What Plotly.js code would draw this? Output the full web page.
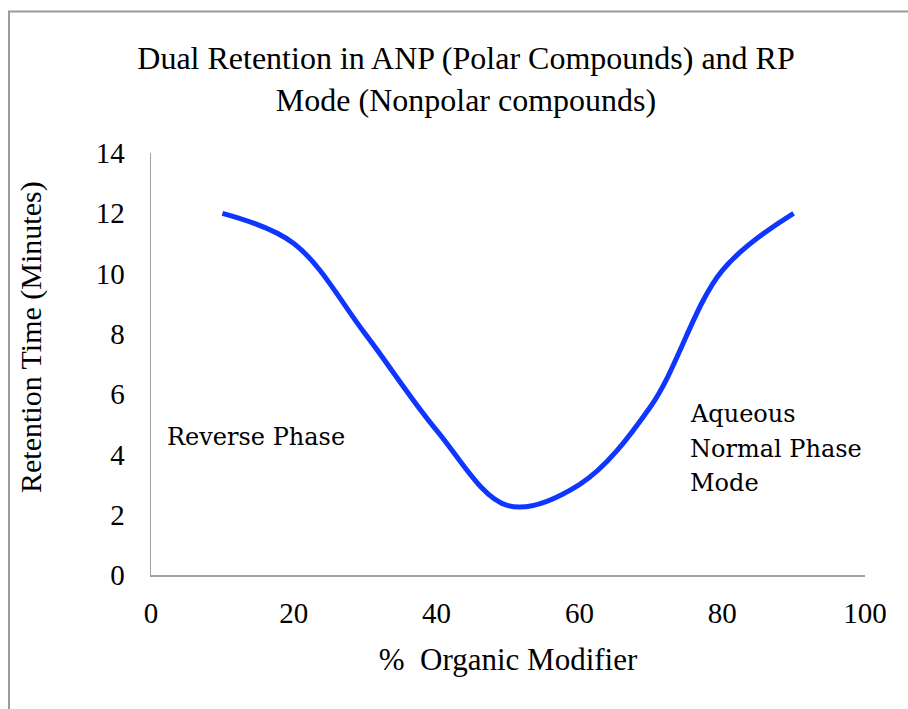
<!DOCTYPE html>
<html>
<head>
<meta charset="utf-8">
<script src="https://cdn.plot.ly/plotly-3.0.1.min.js"></script>
<style>
  html, body { margin: 0; padding: 0; background: #ffffff; }
  #chart { width: 908px; height: 709px; }
</style>
</head>
<body>
<div id="chart"></div>
<script>
// Data
const organicModifier = [10, 20, 30, 40, 50, 60, 70, 80, 90];
const retentionTime   = [12, 11, 8, 4.8, 2.3, 3, 5.6, 10.1, 12];

const xTicks = [0, 20, 40, 60, 80, 100];
const yTicks = [0, 2, 4, 6, 8, 10, 12, 14];

const titleText = "Dual Retention in ANP (Polar Compounds) and RP<br>Mode (Nonpolar compounds)";
const xTitle = "%\u00A0\u00A0Organic Modifier";
const yTitle = "Retention Time (Minutes)";
const labelLeft = "Reverse Phase";
const labelRightLines = ["Aqueous", "Normal Phase", "Mode"];

const serif = "Liberation Serif, Times New Roman, serif";
const labelFont = "DejaVu Serif, serif";

const trace = {
  x: organicModifier,
  y: retentionTime,
  type: "scatter",
  mode: "lines",
  line: { color: "#0F36FF", width: 5, shape: "spline", smoothing: 1 },
  hoverinfo: "x+y",
  showlegend: false
};

// plot area geometry helpers (pixel -> paper)
const L = 151, R = 865, T = 153, B = 575;
const px = v => (v - L) / (R - L);
const py = v => (B - v) / (B - T);

const annotations = [
  {
    text: yTitle,
    xref: "paper", yref: "paper",
    x: px(31), xanchor: "center",
    y: py(337), yanchor: "middle",
    textangle: -90,
    showarrow: false,
    font: { family: serif, size: 30, color: "#000000" }
  },
  {
    text: labelLeft,
    xref: "paper", yref: "paper",
    x: px(165), xanchor: "left",
    y: py(437), yanchor: "middle",
    showarrow: false,
    align: "left",
    font: { family: labelFont, size: 24, color: "#000000" }
  }
];
const rightLineY = [414, 449, 483];
labelRightLines.forEach((t, i) => {
  annotations.push({
    text: t,
    xref: "paper", yref: "paper",
    x: px(688), xanchor: "left",
    y: py(rightLineY[i]), yanchor: "middle",
    showarrow: false,
    align: "left",
    font: { family: labelFont, size: 24, color: "#000000" }
  });
});

const layout = {
  width: 908,
  height: 709,
  paper_bgcolor: "#ffffff",
  plot_bgcolor: "#ffffff",
  margin: { l: L, r: 908 - R, t: T, b: 709 - B },
  showlegend: false,
  title: {
    text: titleText,
    font: { family: serif, size: 32, color: "#000000" },
    xref: "paper",
    x: px(466),
    xanchor: "center",
    yref: "container",
    y: 1 - 69 / 709,
    yanchor: "top"
  },
  xaxis: {
    range: [0, 100],
    tickvals: xTicks,
    ticktext: xTicks.map(String),
    showgrid: false,
    zeroline: false,
    showline: true,
    linecolor: "#A0A0A0",
    linewidth: 1.5,
    ticks: "outside",
    ticklen: 12,
    tickcolor: "rgba(0,0,0,0)",
    tickfont: { family: serif, size: 29, color: "#000000" },
    title: {
      text: xTitle,
      font: { family: serif, size: 31, color: "#000000" },
      standoff: 20
    },
    fixedrange: true
  },
  yaxis: {
    range: [0, 14],
    tickvals: yTicks,
    ticktext: yTicks.map(String),
    showgrid: false,
    zeroline: false,
    showline: true,
    linecolor: "#A0A0A0",
    linewidth: 1.5,
    ticks: "outside",
    ticklen: 19,
    tickcolor: "rgba(0,0,0,0)",
    tickfont: { family: serif, size: 29, color: "#000000" },
    fixedrange: true
  },
  annotations: annotations,
  shapes: [
    {
      type: "rect",
      xref: "paper", yref: "paper",
      x0: px(9), x1: px(1000),
      y0: py(800), y1: py(11.5),
      line: { color: "#9A9A9A", width: 2 },
      fillcolor: "rgba(0,0,0,0)",
      layer: "below"
    }
  ]
};

Plotly.newPlot("chart", [trace], layout, { displayModeBar: false, staticPlot: true });
</script>
</body>
</html>
